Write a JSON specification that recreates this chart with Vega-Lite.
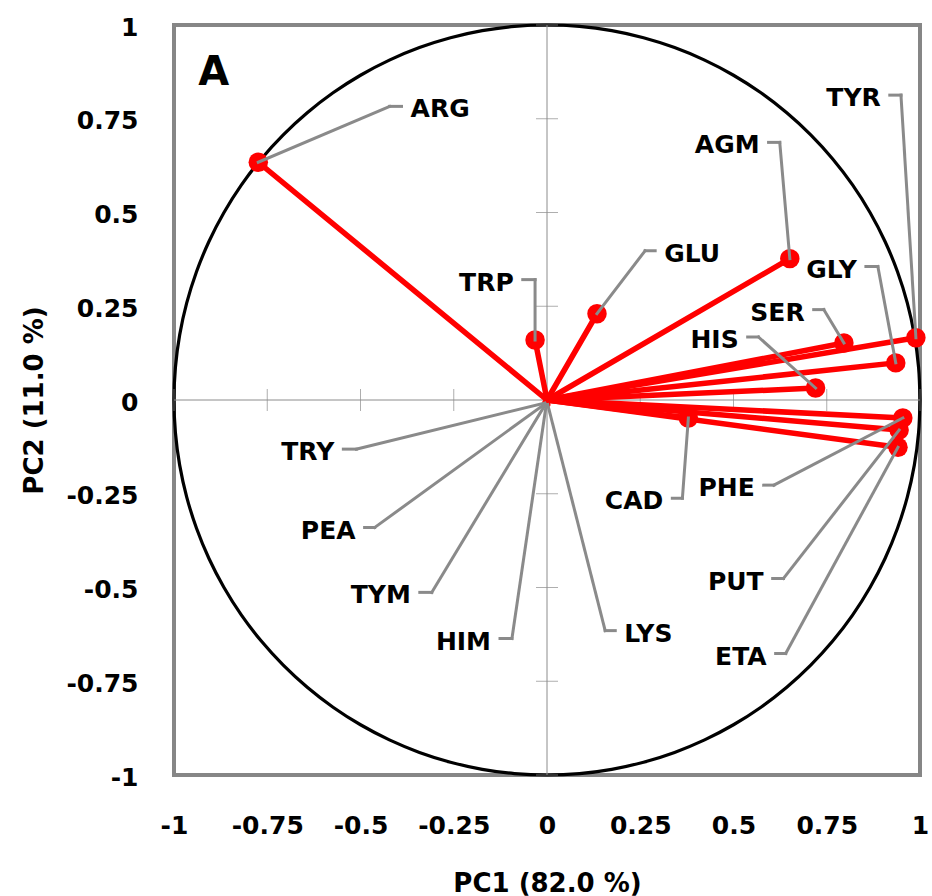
{
  "$schema": "https://vega.github.io/schema/vega-lite/v6.json",
  "width": 746,
  "height": 750,
  "autosize": {"type": "none"},
  "padding": {"left": 174, "top": 25, "right": 12, "bottom": 121},
  "background": "white",
  "config": {
    "view": {"stroke": "#868686", "strokeWidth": 4},
    "font": "DejaVu Sans"
  },
  "datasets": {
    "circle": [
      {"i":0,"x":1,"y":0},{"i":1,"x":0.9962,"y":0.0872},{"i":2,"x":0.9848,"y":0.1736},{"i":3,"x":0.9659,"y":0.2588},
      {"i":4,"x":0.9397,"y":0.342},{"i":5,"x":0.9063,"y":0.4226},{"i":6,"x":0.866,"y":0.5},{"i":7,"x":0.8192,"y":0.5736},
      {"i":8,"x":0.766,"y":0.6428},{"i":9,"x":0.7071,"y":0.7071},{"i":10,"x":0.6428,"y":0.766},{"i":11,"x":0.5736,"y":0.8192},
      {"i":12,"x":0.5,"y":0.866},{"i":13,"x":0.4226,"y":0.9063},{"i":14,"x":0.342,"y":0.9397},{"i":15,"x":0.2588,"y":0.9659},
      {"i":16,"x":0.1736,"y":0.9848},{"i":17,"x":0.0872,"y":0.9962},{"i":18,"x":0,"y":1},{"i":19,"x":-0.0872,"y":0.9962},
      {"i":20,"x":-0.1736,"y":0.9848},{"i":21,"x":-0.2588,"y":0.9659},{"i":22,"x":-0.342,"y":0.9397},{"i":23,"x":-0.4226,"y":0.9063},
      {"i":24,"x":-0.5,"y":0.866},{"i":25,"x":-0.5736,"y":0.8192},{"i":26,"x":-0.6428,"y":0.766},{"i":27,"x":-0.7071,"y":0.7071},
      {"i":28,"x":-0.766,"y":0.6428},{"i":29,"x":-0.8192,"y":0.5736},{"i":30,"x":-0.866,"y":0.5},{"i":31,"x":-0.9063,"y":0.4226},
      {"i":32,"x":-0.9397,"y":0.342},{"i":33,"x":-0.9659,"y":0.2588},{"i":34,"x":-0.9848,"y":0.1736},{"i":35,"x":-0.9962,"y":0.0872},
      {"i":36,"x":-1,"y":0},{"i":37,"x":-0.9962,"y":-0.0872},{"i":38,"x":-0.9848,"y":-0.1736},{"i":39,"x":-0.9659,"y":-0.2588},
      {"i":40,"x":-0.9397,"y":-0.342},{"i":41,"x":-0.9063,"y":-0.4226},{"i":42,"x":-0.866,"y":-0.5},{"i":43,"x":-0.8192,"y":-0.5736},
      {"i":44,"x":-0.766,"y":-0.6428},{"i":45,"x":-0.7071,"y":-0.7071},{"i":46,"x":-0.6428,"y":-0.766},{"i":47,"x":-0.5736,"y":-0.8192},
      {"i":48,"x":-0.5,"y":-0.866},{"i":49,"x":-0.4226,"y":-0.9063},{"i":50,"x":-0.342,"y":-0.9397},{"i":51,"x":-0.2588,"y":-0.9659},
      {"i":52,"x":-0.1736,"y":-0.9848},{"i":53,"x":-0.0872,"y":-0.9962},{"i":54,"x":0,"y":-1},{"i":55,"x":0.0872,"y":-0.9962},
      {"i":56,"x":0.1736,"y":-0.9848},{"i":57,"x":0.2588,"y":-0.9659},{"i":58,"x":0.342,"y":-0.9397},{"i":59,"x":0.4226,"y":-0.9063},
      {"i":60,"x":0.5,"y":-0.866},{"i":61,"x":0.5736,"y":-0.8192},{"i":62,"x":0.6428,"y":-0.766},{"i":63,"x":0.7071,"y":-0.7071},
      {"i":64,"x":0.766,"y":-0.6428},{"i":65,"x":0.8192,"y":-0.5736},{"i":66,"x":0.866,"y":-0.5},{"i":67,"x":0.9063,"y":-0.4226},
      {"i":68,"x":0.9397,"y":-0.342},{"i":69,"x":0.9659,"y":-0.2588},{"i":70,"x":0.9848,"y":-0.1736},{"i":71,"x":0.9962,"y":-0.0872},
      {"i":72,"x":1,"y":0}
    ],
    "vars": [
      {"name":"ARG","pc1":-0.774,"pc2":0.634,"ex":-0.422,"ey":0.783,"hx":-0.39},
      {"name":"TRP","pc1":-0.032,"pc2":0.16,"ex":-0.032,"ey":0.321,"hx":-0.065},
      {"name":"GLU","pc1":0.134,"pc2":0.23,"ex":0.263,"ey":0.398,"hx":0.29},
      {"name":"AGM","pc1":0.651,"pc2":0.377,"ex":0.624,"ey":0.687,"hx":0.594},
      {"name":"TYR","pc1":0.989,"pc2":0.166,"ex":0.949,"ey":0.813,"hx":0.919},
      {"name":"GLY","pc1":0.935,"pc2":0.099,"ex":0.887,"ey":0.356,"hx":0.855},
      {"name":"SER","pc1":0.796,"pc2":0.152,"ex":0.742,"ey":0.241,"hx":0.715},
      {"name":"HIS","pc1":0.72,"pc2":0.032,"ex":0.567,"ey":0.168,"hx":0.538},
      {"name":"CAD","pc1":0.379,"pc2":-0.048,"ex":0.363,"ey":-0.262,"hx":0.336},
      {"name":"PHE","pc1":0.954,"pc2":-0.048,"ex":0.608,"ey":-0.227,"hx":0.581},
      {"name":"PUT","pc1":0.944,"pc2":-0.08,"ex":0.634,"ey":-0.476,"hx":0.605},
      {"name":"ETA","pc1":0.941,"pc2":-0.126,"ex":0.64,"ey":-0.676,"hx":0.613},
      {"name":"TRY","pc1":-0.006,"pc2":-0.008,"ex":-0.511,"ey":-0.131,"hx":-0.546},
      {"name":"PEA","pc1":-0.005,"pc2":-0.01,"ex":-0.462,"ey":-0.34,"hx":-0.489},
      {"name":"TYM","pc1":-0.004,"pc2":-0.011,"ex":-0.309,"ey":-0.513,"hx":-0.341},
      {"name":"HIM","pc1":-0.002,"pc2":-0.012,"ex":-0.094,"ey":-0.636,"hx":-0.126},
      {"name":"LYS","pc1":0.002,"pc2":-0.012,"ex":0.156,"ey":-0.615,"hx":0.183}
    ],
    "ticks": [
      {"t":-1},{"t":-0.75},{"t":-0.5},{"t":-0.25},{"t":0.25},{"t":0.5},{"t":0.75},{"t":1}
    ],
    "one": [{"id": 1}]
  },
  "layer": [
    {
      "data": {"name": "circle"},
      "mark": {"type": "line", "color": "black", "strokeWidth": 3.2, "interpolate": "cardinal"},
      "encoding": {
        "x": {
          "field": "x", "type": "quantitative",
          "scale": {"domain": [-1, 1], "nice": false, "zero": false},
          "axis": {
            "values": [-1, -0.75, -0.5, -0.25, 0, 0.25, 0.5, 0.75, 1],
            "labelExpr": "'' + datum.value",
            "domain": false, "ticks": false, "tickSize": 0, "grid": false,
            "labelFont": "DejaVu Sans", "labelFontSize": 25, "labelFontWeight": "bold", "labelColor": "black",
            "labelPadding": 38, "labelFlush": false, "labelOverlap": false, "labelBound": false,
            "title": "PC1 (82.0 %)", "titleFont": "DejaVu Sans", "titleFontSize": 26, "titleFontWeight": "bold", "titleColor": "black",
            "titleX": 373, "titleY": 108, "titleAlign": "center", "titleBaseline": "middle"
          }
        },
        "y": {
          "field": "y", "type": "quantitative",
          "scale": {"domain": [-1, 1], "nice": false, "zero": false},
          "axis": {
            "values": [-1, -0.75, -0.5, -0.25, 0, 0.25, 0.5, 0.75, 1],
            "labelExpr": "'' + datum.value",
            "domain": false, "ticks": false, "tickSize": 0, "grid": false,
            "labelFont": "DejaVu Sans", "labelFontSize": 25, "labelFontWeight": "bold", "labelColor": "black",
            "labelPadding": 36, "labelOffset": 2, "labelFlush": false, "labelOverlap": false, "labelBound": false,
            "title": "PC2 (11.0 %)", "titleFont": "DejaVu Sans", "titleFontSize": 26, "titleFontWeight": "bold", "titleColor": "black",
            "titleX": -140, "titleY": 375, "titleAngle": -90, "titleAlign": "center", "titleBaseline": "middle"
          }
        },
        "order": {"field": "i", "type": "quantitative"}
      }
    },
    {
      "data": {"name": "one"},
      "mark": {"type": "rule", "color": "#8c8c8c", "strokeWidth": 1},
      "encoding": {"x": {"datum": 0, "type": "quantitative"}}
    },
    {
      "data": {"name": "one"},
      "mark": {"type": "rule", "color": "#8c8c8c", "strokeWidth": 1},
      "encoding": {"y": {"datum": 0, "type": "quantitative"}}
    },
    {
      "data": {"name": "ticks"},
      "mark": {"type": "tick", "orient": "vertical", "size": 22, "thickness": 1, "color": "#8c8c8c"},
      "encoding": {
        "x": {"field": "t", "type": "quantitative"},
        "y": {"datum": 0, "type": "quantitative"}
      }
    },
    {
      "data": {"name": "ticks"},
      "mark": {"type": "tick", "orient": "horizontal", "size": 22, "thickness": 1, "color": "#8c8c8c"},
      "encoding": {
        "y": {"field": "t", "type": "quantitative"},
        "x": {"datum": 0, "type": "quantitative"}
      }
    },
    {
      "data": {"name": "vars"},
      "mark": {"type": "rule", "color": "#ff0000", "strokeWidth": 5.5, "strokeCap": "round"},
      "encoding": {
        "x": {"field": "pc1", "type": "quantitative"},
        "y": {"field": "pc2", "type": "quantitative"},
        "x2": {"datum": 0},
        "y2": {"datum": 0}
      }
    },
    {
      "data": {"name": "vars"},
      "transform": [{"filter": "datum.pc1 * datum.pc1 + datum.pc2 * datum.pc2 > 0.01"}],
      "mark": {"type": "point", "filled": true, "shape": "circle", "size": 380, "color": "#ff0000", "opacity": 1},
      "encoding": {
        "x": {"field": "pc1", "type": "quantitative"},
        "y": {"field": "pc2", "type": "quantitative"}
      }
    },
    {
      "data": {"name": "vars"},
      "mark": {"type": "rule", "color": "#8a8a8a", "strokeWidth": 3, "strokeCap": "square"},
      "encoding": {
        "x": {"field": "pc1", "type": "quantitative"},
        "y": {"field": "pc2", "type": "quantitative"},
        "x2": {"field": "ex"},
        "y2": {"field": "ey"}
      }
    },
    {
      "data": {"name": "vars"},
      "mark": {"type": "rule", "color": "#8a8a8a", "strokeWidth": 3, "strokeCap": "square"},
      "encoding": {
        "x": {"field": "ex", "type": "quantitative"},
        "y": {"field": "ey", "type": "quantitative"},
        "x2": {"field": "hx"}
      }
    },
    {
      "data": {"name": "vars"},
      "transform": [{"filter": "datum.hx > datum.ex"}],
      "mark": {"type": "text", "align": "left", "baseline": "middle", "dx": 9, "dy": 3, "font": "DejaVu Sans", "fontSize": 25, "fontWeight": "bold", "color": "black"},
      "encoding": {
        "x": {"field": "hx", "type": "quantitative"},
        "y": {"field": "ey", "type": "quantitative"},
        "text": {"field": "name"}
      }
    },
    {
      "data": {"name": "vars"},
      "transform": [{"filter": "datum.hx < datum.ex"}],
      "mark": {"type": "text", "align": "right", "baseline": "middle", "dx": -9, "dy": 3, "font": "DejaVu Sans", "fontSize": 25, "fontWeight": "bold", "color": "black"},
      "encoding": {
        "x": {"field": "hx", "type": "quantitative"},
        "y": {"field": "ey", "type": "quantitative"},
        "text": {"field": "name"}
      }
    },
    {
      "data": {"name": "one"},
      "mark": {"type": "text", "text": "A", "align": "left", "baseline": "middle", "font": "DejaVu Sans", "fontSize": 40, "fontWeight": "bold", "color": "black"},
      "encoding": {
        "x": {"datum": -0.935, "type": "quantitative"},
        "y": {"datum": 0.872, "type": "quantitative"}
      }
    }
  ]
}
